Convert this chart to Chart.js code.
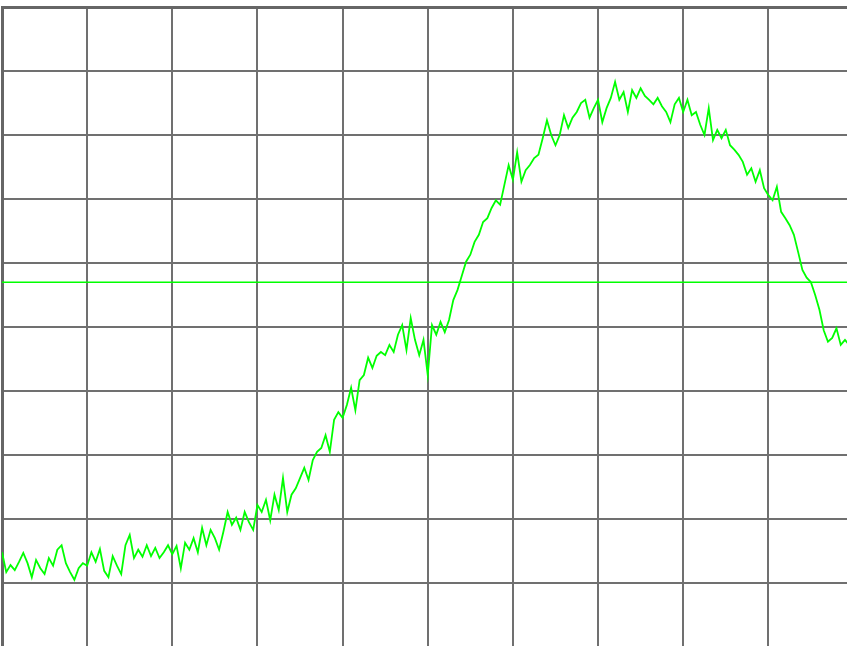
<!DOCTYPE html>
<html>
<head>
<meta charset="utf-8">
<script src="https://cdn.jsdelivr.net/npm/chart.js@4/dist/chart.umd.min.js"></script>
<style>
  html, body { margin: 0; padding: 0; background: #ffffff; overflow: hidden; }
  #wrap { position: absolute; left: 0; top: 0; width: 860px; height: 654px; }
  canvas { display: block; }
</style>
</head>
<body>
<div id="wrap"><canvas id="c" width="860" height="654"></canvas></div>
<script>
// Sample spacing along the x axis (axis runs 0..1000)
const sampleStep = 5;
// Signal level readings (0..100 scale), one per sample
const signalLevels = [
  14.8, 11.7, 12.8, 12.0, 13.3, 14.7, 13.1, 10.9, 13.6, 12.3,
  11.4, 13.9, 12.7, 15.2, 15.9, 13.1, 11.7, 10.5, 12.3, 13.1,
  12.7, 14.8, 13.3, 15.3, 11.9, 10.9, 14.2, 12.7, 11.4, 15.9,
  17.5, 13.9, 15.2, 14.1, 15.9, 14.2, 15.5, 13.9, 14.8, 15.9,
  14.5, 15.8, 12.3, 16.3, 15.2, 17.0, 14.8, 18.6, 15.9, 18.3,
  17.0, 15.2, 18.0, 21.1, 19.1, 20.2, 18.3, 21.1, 19.5, 18.3,
  22.2, 21.1, 23.0, 19.8, 23.8, 21.4, 26.4, 21.1, 23.8, 24.8,
  26.4, 28.0, 26.1, 29.2, 30.5, 31.1, 33.1, 30.5, 35.5, 36.7,
  35.8, 37.8, 40.5, 37.0, 41.7, 42.5, 45.2, 43.6, 45.5, 46.1,
  45.6, 47.2, 46.1, 48.8, 50.3, 46.4, 51.4, 48.0, 45.6, 48.0,
  42.5, 50.3, 48.8, 50.8, 49.2, 51.1, 54.2, 55.8, 58.0, 60.2,
  61.3, 63.3, 64.4, 66.4, 67.0, 68.6, 69.8, 69.1, 72.2, 75.3,
  73.0, 77.3, 72.7, 74.5, 75.3, 76.4, 76.9, 79.5, 82.3, 80.0,
  78.4, 80.0, 83.1, 81.1, 82.7, 83.6, 85.0, 85.5, 82.7, 84.2,
  85.5, 82.0, 84.2, 85.8, 88.3, 85.5, 86.7, 83.6, 87.0, 85.8,
  87.3, 86.1, 85.5, 84.8, 85.8, 84.5, 83.6, 82.0, 84.8, 85.8,
  83.6, 85.5, 83.1, 83.6, 81.6, 80.0, 84.2, 79.2, 80.8, 79.5,
  80.8, 78.4, 77.7, 76.9, 75.8, 73.8, 74.8, 72.7, 74.5, 71.7,
  70.6, 69.8, 71.9, 68.0, 67.0, 65.9, 64.4, 61.7, 58.9, 57.7,
  57.0, 55.0, 52.7, 49.5, 47.7, 48.3, 49.8, 47.2, 48.0, 47.2,
  47.7
];
// Reference / threshold level
const thresholdLevel = 57;
const xRange = [0, 1000];
const yRange = [0, 100];

const signalPoints = signalLevels.map((v, i) => ({ x: i * sampleStep, y: v }));
const thresholdPoints = [{ x: xRange[0], y: thresholdLevel }, { x: xRange[1], y: thresholdLevel }];

const gridColor = '#707070';

new Chart(document.getElementById('c'), {
  type: 'line',
  data: {
    datasets: [
      { data: thresholdPoints, borderColor: '#00ff00', borderWidth: 1.5, pointRadius: 0, tension: 0 },
      { data: signalPoints, borderColor: '#00ff00', borderWidth: 1.8, pointRadius: 0, tension: 0 }
    ]
  },
  options: {
    responsive: false,
    animation: false,
    events: [],
    layout: { padding: { left: 2, top: 7, right: 6.5, bottom: 7 } },
    plugins: { legend: { display: false }, tooltip: { enabled: false } },
    scales: {
      x: {
        type: 'linear', position: 'bottom', min: xRange[0], max: xRange[1],
        ticks: { display: false, stepSize: 100 },
        grid: { color: gridColor, lineWidth: 2, drawTicks: false },
        border: { display: true, color: gridColor, width: 2 }
      },
      xTop: {
        type: 'linear', position: 'top', min: xRange[0], max: xRange[1],
        ticks: { display: false },
        grid: { display: false, drawTicks: false },
        border: { display: true, color: '#666666', width: 3 }
      },
      y: {
        type: 'linear', position: 'left', min: yRange[0], max: yRange[1],
        ticks: { display: false, stepSize: 10 },
        grid: { color: gridColor, lineWidth: 2, drawTicks: false },
        border: { display: true, color: '#666666', width: 3 }
      }
    }
  }
});
</script>
</body>
</html>
